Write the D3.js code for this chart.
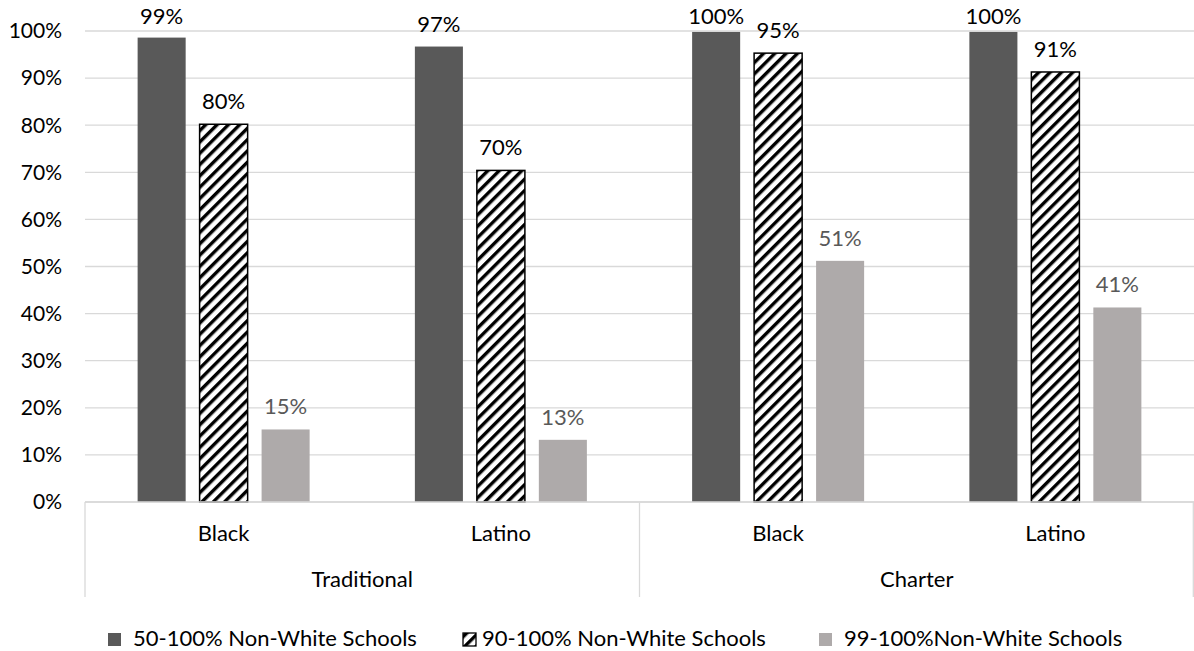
<!DOCTYPE html>
<html><head><meta charset="utf-8">
<script src="https://cdn.jsdelivr.net/npm/d3@7"></script>
<style>body{margin:0;background:#fff}svg{display:block}text{font-family:Lato,"Open Sans",sans-serif}</style>
</head><body><svg id="c" width="1194" height="651"></svg>
<script>
const groups = ["Traditional", "Traditional", "Charter", "Charter"];
const categories = ["Black", "Latino", "Black", "Latino"];
const seriesNames = ["50-100% Non-White Schools", "90-100% Non-White Schools", "99-100%Non-White Schools"];
const s50 = [0.986, 0.967, 0.998, 0.998];
const s90 = [0.802, 0.704, 0.953, 0.913];
const s99 = [0.154, 0.132, 0.512, 0.413];
const yTicks = [0, 0.1, 0.2, 0.3, 0.4, 0.5, 0.6, 0.7, 0.8, 0.9, 1.0];

const series = [s50, s90, s99];
const svg = d3.select("#c");
const W = 1194;
const m = {left: 85, right: 0, top: 31};
const plotB = 502;
const FS = 22;

const defs = svg.append("defs");
const pat = defs.append("pattern").attr("id","hatch").attr("patternUnits","userSpaceOnUse")
  .attr("width",8).attr("height",8).attr("patternTransform","rotate(45)");
pat.append("rect").attr("width",8).attr("height",8).attr("fill","#fff");
pat.append("rect").attr("x",0).attr("y",0).attr("width",3.4).attr("height",8).attr("fill","#000");

const x0 = d3.scaleBand().domain(d3.range(categories.length)).range([m.left, W - m.right]);
const y = d3.scaleLinear().domain([0, 1]).range([plotB, m.top]);
const x1 = d3.scaleBand().domain(d3.range(3)).range([0, 172]).paddingInner(0.225);
const offset = (x0.bandwidth() - 172) / 2;

svg.append("g").selectAll("line").data(yTicks).join("line")
  .attr("x1", m.left).attr("x2", W).attr("y1", d => y(d)).attr("y2", d => y(d))
  .attr("stroke", "#d9d9d9").attr("stroke-width", 1.3);

svg.append("g").selectAll("text").data(yTicks).join("text")
  .attr("x", 62).attr("y", d => y(d)).attr("dy", "0.35em").attr("text-anchor", "end")
  .attr("font-size", 21).attr("fill", "#000").text(d3.format(".0%"));

const fills = ["#595959", "url(#hatch)", "#AEAAAA"];
const labelColors = ["#000", "#000", "#595959"];
series.forEach((vals, si) => {
  const g = svg.append("g");
  g.selectAll("rect").data(vals).join("rect")
    .attr("x", (d, i) => x0(i) + offset + x1(si))
    .attr("y", d => y(d))
    .attr("width", x1.bandwidth())
    .attr("height", d => plotB - y(d))
    .attr("fill", fills[si])
    .attr("stroke", si === 1 ? "#000" : "none")
    .attr("stroke-width", 1.5);
  g.selectAll("text").data(vals).join("text")
    .attr("x", (d, i) => x0(i) + offset + x1(si) + x1.bandwidth() / 2)
    .attr("y", d => Math.max(23.5, y(d) - 15))
    .attr("text-anchor", "middle").attr("font-size", FS).attr("fill", labelColors[si])
    .text(d3.format(".0%"));
});

const ax = svg.append("g").attr("stroke", "#d9d9d9").attr("stroke-width", 1.3);
ax.append("line").attr("x1", m.left).attr("x2", W).attr("y1", plotB).attr("y2", plotB);
const groupNames = Array.from(new Set(groups));
const groupBounds = groupNames.map(gname => {
  const idx = groups.map((g, i) => g === gname ? i : -1).filter(i => i >= 0);
  return {name: gname, x0: x0(idx[0]), x1: x0(idx[idx.length - 1]) + x0.bandwidth()};
});
const seps = [m.left].concat(groupBounds.map(b => b.x1));
ax.selectAll("line.sep").data(seps).join("line").attr("class", "sep")
  .attr("x1", d => Math.min(d, W - 0.7)).attr("x2", d => Math.min(d, W - 0.7))
  .attr("y1", plotB).attr("y2", 597);

svg.append("g").selectAll("text").data(categories).join("text")
  .attr("x", (d, i) => x0(i) + x0.bandwidth() / 2).attr("y", 541)
  .attr("text-anchor", "middle").attr("font-size", FS).attr("fill", "#000").text(d => d);
svg.append("g").selectAll("text").data(groupBounds).join("text")
  .attr("x", d => (d.x0 + d.x1) / 2).attr("y", 587)
  .attr("text-anchor", "middle").attr("font-size", FS).attr("fill", "#000").text(d => d.name);

const legX = [108, 463, 819];
const leg = svg.append("g");
seriesNames.forEach((n, i) => {
  leg.append("rect").attr("x", legX[i]).attr("y", 633).attr("width", 13).attr("height", 13)
    .attr("fill", fills[i]).attr("stroke", i === 1 ? "#000" : "none").attr("stroke-width", 1.3);
  leg.append("text").attr("x", legX[i] + (i === 1 ? 19 : 25)).attr("y", 646)
    .attr("font-size", FS).attr("fill", "#000").text(n);
});
</script></body></html>
